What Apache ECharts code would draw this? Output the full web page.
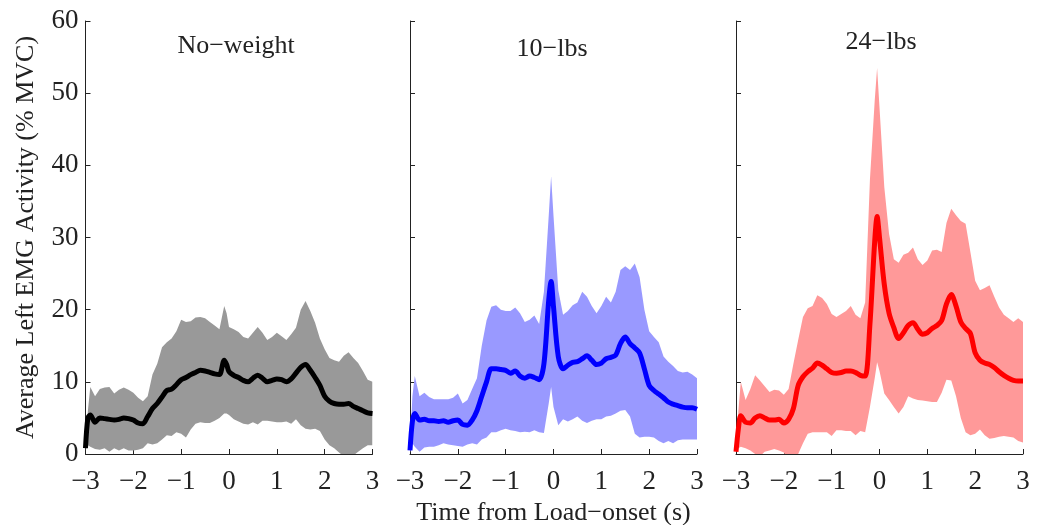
<!DOCTYPE html>
<html>
<head>
<meta charset="utf-8">
<script src="https://cdn.jsdelivr.net/npm/echarts@6/dist/echarts.min.js"></script>
<style>
  html, body { margin: 0; padding: 0; background: #fff; }
  #main { width: 1042px; height: 525px; }
</style>
</head>
<body>
<div id="main"></div>
<script>
// time from load onset (s)
const time = [-3, -2.95,
  -2.9, -2.8, -2.7, -2.6, -2.5, -2.4, -2.3, -2.2, -2.1, -2.0,
  -1.9, -1.8, -1.7, -1.6, -1.5, -1.4, -1.3, -1.2, -1.1, -1.0,
  -0.9, -0.8, -0.7, -0.6, -0.5, -0.4, -0.3, -0.2, -0.1,
  -0.05,
  0, 0.1, 0.2, 0.3, 0.4, 0.5, 0.6, 0.7, 0.8, 0.9,
  1.0, 1.1, 1.2, 1.3, 1.4, 1.5, 1.6, 1.7, 1.8, 1.9,
  2.0, 2.1, 2.2, 2.3, 2.4, 2.5, 2.6, 2.7, 2.8, 2.9,
  3.0];

const xTicks = [-3, -2, -1, 0, 1, 2, 3];
const yTicks = [0, 10, 20, 30, 40, 50, 60];
const panelTitles = ['No−weight', '10−lbs', '24−lbs'];

// No-weight
const noWeightMean = [0.8, 5.0,
  5.4, 4.4, 5.0, 4.9, 4.8, 4.7, 4.8, 5.0, 4.9, 4.7,
  4.3, 4.2, 5.2, 6.3, 7.0, 7.9, 8.8, 9.0, 9.6, 10.3,
  10.6, 11.0, 11.3, 11.6, 11.5, 11.3, 11.1, 11.0, 13.0,
  12.4,
  11.4, 10.9, 10.6, 10.2, 10.0, 10.5, 10.9, 10.5, 10.0, 10.2,
  10.4, 10.3, 10.0, 10.4, 11.2, 12.0, 12.4, 11.6, 10.6, 9.5,
  8.0, 7.3, 7.0, 6.9, 6.9, 7.0, 6.6, 6.3, 6.0, 5.7,
  5.6];
const noWeightUpper = [1.5, 6.0,
  9.3, 8.0, 9.0, 9.2, 9.3, 8.4, 8.9, 9.2, 8.9, 8.5,
  7.8, 7.3, 8.0, 11.0, 12.5, 14.8, 15.5, 16.0, 17.0, 18.6,
  18.3, 18.4, 18.9, 19.0, 18.8, 18.3, 17.8, 17.3, 20.5,
  19.5,
  17.6, 17.3, 16.9, 16.2, 16.0, 16.8, 17.6, 16.8, 15.8, 16.2,
  16.8, 16.3, 15.8, 16.6, 17.5, 20.0, 21.2, 19.8, 18.2, 16.0,
  14.5, 13.3, 13.0, 12.8, 13.6, 14.1, 13.3, 12.6, 11.5, 10.3,
  10.0];
const noWeightLower = [0.5, 1.2,
  1.0, 0.7, 0.6, 0.8, 0.3, 0.8, 0.5, 0.8, 0.5, 0.5,
  0.6, 0.8, 1.5, 1.3, 1.5, 2.0, 2.6, 2.5, 3.0, 2.8,
  2.3, 3.4, 4.2, 4.4, 4.3, 4.3, 4.6, 5.0, 5.6,
  5.6,
  5.4, 4.8, 4.5, 4.2, 4.1, 4.4, 4.1, 4.6, 4.6, 4.5,
  4.4, 4.4, 4.5, 4.2, 4.8, 4.0, 3.5, 3.4, 3.5, 3.2,
  2.0, 1.2, 0.8, 0.2, -0.3, -0.5, -0.2, 0.3, 0.8, 1.2,
  1.2];

// 10-lbs
const tenLbsMean = [0.5, 4.5,
  5.6, 4.7, 4.8, 4.6, 4.6, 4.5, 4.6, 4.4, 4.6, 4.7,
  4.1, 4.0, 4.7, 6.0, 8.0, 10.0, 11.8, 11.8, 11.7, 11.6,
  11.2, 11.5, 10.8, 10.5, 10.8, 10.6, 10.3, 12.5, 21.3,
  23.9,
  20.4, 13.5, 11.8, 12.3, 12.7, 12.8, 13.2, 13.6, 13.0, 12.4,
  12.6, 13.2, 13.4, 13.7, 15.3, 16.2, 15.3, 14.7, 14.0, 11.8,
  9.5, 8.8, 8.3, 7.8, 7.2, 6.9, 6.7, 6.5, 6.4, 6.4,
  6.2];
const tenLbsUpper = [1.0, 8.0,
  10.8, 8.0, 8.5, 7.9, 7.6, 7.6, 7.6, 7.6, 7.8, 8.4,
  7.0, 7.5, 9.0, 10.5, 15.0, 18.5, 20.4, 20.6, 20.0, 19.8,
  19.8, 20.3, 19.5, 18.3, 18.6, 19.2, 18.0, 22.5, 33.0,
  38.5,
  33.0, 22.7, 19.3, 19.8, 20.6, 21.0, 22.5, 21.8, 20.5, 19.5,
  20.5, 21.8, 21.0, 22.5, 25.5, 26.0, 25.5, 26.4, 24.5, 20.0,
  17.0, 16.2, 15.5, 13.5, 12.8, 12.2, 11.5, 11.3, 11.4, 11.0,
  10.5];
const tenLbsLower = [0.2, 1.5,
  1.0, 0.3, 0.9, 1.0, 1.0, 1.2, 1.5, 1.3, 1.2, 1.1,
  1.0, 1.3, 1.5, 1.3, 2.0, 2.3, 3.0, 3.0, 3.3, 3.5,
  3.3, 3.2, 3.0, 3.1, 3.0, 3.3, 3.0, 2.9, 7.0,
  9.3,
  6.5, 4.0, 4.8, 4.5, 4.8, 5.2, 4.6, 4.3, 4.6, 4.8,
  4.8, 5.2, 5.3, 5.6, 6.0, 6.1, 5.2, 2.8, 2.3, 2.4,
  2.4, 2.3, 1.8, 1.5, 1.8, 1.5, 1.9, 2.0, 2.0, 2.0,
  2.0];

// 24-lbs
const heavyMean = [0.3, 3.5,
  5.3, 4.4, 4.3, 5.0, 5.3, 5.0, 4.7, 4.7, 4.8, 4.3,
  4.8, 6.3, 9.5, 10.7, 11.4, 11.9, 12.6, 12.3, 11.8, 11.3,
  11.2, 11.3, 11.5, 11.5, 11.3, 10.9, 10.8, 18.0, 29.5,
  32.9,
  30.0, 23.5, 19.5, 17.5, 16.0, 16.8, 17.8, 18.2, 17.3, 16.6,
  16.8, 17.4, 17.8, 18.5, 20.8, 22.1, 20.5, 18.3, 17.4, 16.7,
  14.0, 13.0, 12.6, 12.4, 12.0, 11.4, 10.9, 10.5, 10.2, 10.1,
  10.1];
const heavyUpper = [1.0, 6.0,
  10.0, 7.5, 9.0, 10.9, 10.2, 9.4, 8.6, 8.9, 8.8, 8.2,
  9.0, 12.5, 15.8, 19.0, 20.2, 20.5, 22.0, 21.6, 20.8, 19.4,
  19.0, 19.4, 19.8, 20.5, 19.3, 18.8, 21.0, 38.0, 49.0,
  53.5,
  48.0, 37.0, 30.5, 27.0, 26.5, 27.6, 27.9, 28.6, 27.0, 26.2,
  26.8, 28.2, 28.3, 28.0, 32.0, 34.0, 33.1, 32.3, 31.9, 28.0,
  24.0, 22.7, 23.0, 23.4, 21.8, 20.3, 19.3, 18.8, 18.3, 18.8,
  18.3];
const heavyLower = [0.3, 0.8,
  1.0, 0.8, 0.5, 0.0, -0.3, 0.3, 0.5, 0.7, 0.5, 0.2,
  -1.0, -1.0, 0.0, 1.5, 2.8, 3.0, 3.0, 3.0, 3.0, 2.5,
  3.3, 3.3, 3.2, 3.2, 2.6, 3.2, 3.0, 6.5, 10.5,
  12.7,
  11.5, 8.4, 7.5, 6.5, 5.6, 6.5, 8.0, 7.7, 7.5, 7.4,
  7.3, 7.2, 7.2, 8.5, 10.3, 10.2, 8.0, 5.0, 3.0, 2.6,
  2.8, 3.4, 2.6, 2.1, 2.2, 2.4, 2.5, 2.4, 2.3, 1.8,
  1.6];

const FONT = 'Liberation Serif';
const TEXT_COLOR = '#222';

const panels = [
  { title: panelTitles[0], mean: noWeightMean, upper: noWeightUpper, lower: noWeightLower,
    line: '#000000', band: '#999999', left: 85.5, titleX: 236, titleY: 33 },
  { title: panelTitles[1], mean: tenLbsMean, upper: tenLbsUpper, lower: tenLbsLower,
    line: '#0000ff', band: '#9999ff', left: 410, titleX: 552, titleY: 36 },
  { title: panelTitles[2], mean: heavyMean, upper: heavyUpper, lower: heavyLower,
    line: '#ff0000', band: '#ff9999', left: 736, titleX: 881, titleY: 29 }
];

function minusSign(v) {
  return String(v).replace('-', '\u2212');
}

// shaded band between upper and lower, drawn through the axis scales
function bandRenderer(upper, lower, color) {
  return function (params, api) {
    const pts = [];
    for (let i = 0; i < time.length; i++) pts.push(api.coord([time[i], upper[i]]));
    for (let i = time.length - 1; i >= 0; i--) pts.push(api.coord([time[i], lower[i]]));
    const cs = params.coordSys;
    return {
      type: 'polygon',
      shape: { points: pts },
      style: { fill: color },
      clipPath: { type: 'rect', shape: { x: cs.x, y: cs.y, width: cs.width, height: cs.height } }
    };
  };
}

const grid = [], xAxis = [], yAxis = [], series = [], title = [];

panels.forEach((p, i) => {
  grid.push({ left: p.left, top: 21, width: 287, height: 433, containLabel: false, outerBoundsMode: 'none' });
  xAxis.push({
    type: 'value', gridIndex: i, min: xTicks[0], max: xTicks[xTicks.length - 1], interval: 1,
    axisLine: { onZero: false, lineStyle: { color: TEXT_COLOR, width: 1 } },
    axisTick: { inside: true, length: 5, lineStyle: { color: TEXT_COLOR } },
    splitLine: { show: false },
    axisLabel: { margin: 14, fontFamily: FONT, fontSize: 27, color: TEXT_COLOR, formatter: minusSign },
    name: i === 1 ? 'Time from Load\u2212onset (s)' : '',
    nameLocation: 'middle', nameGap: 35,
    nameTextStyle: { fontFamily: FONT, fontSize: 26, color: TEXT_COLOR }
  });
  yAxis.push({
    type: 'value', gridIndex: i, min: yTicks[0], max: yTicks[yTicks.length - 1], interval: 10,
    axisLine: { show: true, onZero: false, lineStyle: { color: TEXT_COLOR, width: 1 } },
    axisTick: { show: true, inside: true, length: 5, lineStyle: { color: TEXT_COLOR } },
    splitLine: { show: false },
    axisLabel: { show: i === 0, margin: 7, fontFamily: FONT, fontSize: 27, color: TEXT_COLOR },
    name: i === 0 ? 'Average Left EMG Activity (% MVC)' : '',
    nameLocation: 'middle', nameGap: 46, nameRotate: 90,
    nameTextStyle: { fontFamily: FONT, fontSize: 26, color: TEXT_COLOR }
  });
  series.push({
    type: 'custom', xAxisIndex: i, yAxisIndex: i,
    renderItem: bandRenderer(p.upper, p.lower, p.band),
    data: [[0, 0]], encode: { x: 0, y: 1 }, silent: true, z: 1
  });
  series.push({
    type: 'line', xAxisIndex: i, yAxisIndex: i,
    data: time.map((t, k) => [t, p.mean[k]]),
    showSymbol: false, smooth: 0.3, silent: true, z: 3,
    lineStyle: { color: p.line, width: 5 }
  });
  title.push({
    text: p.title, left: p.titleX, top: p.titleY, textAlign: 'center', padding: 0,
    textStyle: { fontFamily: FONT, fontSize: 26, fontWeight: 'normal', color: TEXT_COLOR }
  });
});

const chart = echarts.init(document.getElementById('main'), null, { renderer: 'canvas' });
chart.setOption({
  animation: false,
  backgroundColor: '#ffffff',
  title, grid, xAxis, yAxis, series
});
</script>
</body>
</html>
